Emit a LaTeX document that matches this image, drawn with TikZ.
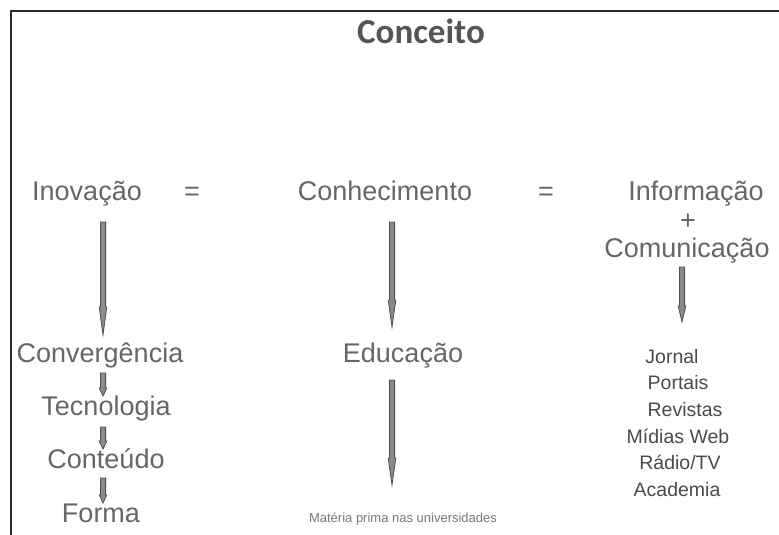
\documentclass[tikz,border=0pt]{standalone}
\usepackage{fontspec}
\setmainfont{Liberation Sans}
\newfontfamily\titlefont{Carlito}
\usetikzlibrary{calc}
\definecolor{txtgray}{HTML}{666666}
\definecolor{listgray}{HTML}{4A4A4A}
\definecolor{smallgray}{HTML}{777777}
\definecolor{titlegray}{HTML}{555555}
\definecolor{arrfill}{HTML}{8A8A8A}
\definecolor{arrdraw}{HTML}{505050}
\definecolor{framecol}{HTML}{2A2A2A}
\tikzset{
  big/.style={text=txtgray, font=\fontsize{27}{32}\selectfont, anchor=base, inner sep=0pt},
  listitem/.style={text=listgray, font=\fontsize{19.5}{22}\selectfont, anchor=base, inner sep=0pt},
  small/.style={text=smallgray, font=\fontsize{13}{15}\selectfont, anchor=base, inner sep=0pt},
  titlestyle/.style={text=titlegray, font=\titlefont\bfseries\fontsize{35}{40}\selectfont, anchor=base, inner sep=0pt},
  frame/.style={draw=framecol, line width=2pt},
  arrowbody/.style={fill=arrfill, draw=arrdraw, line width=0.8pt, line join=miter}
}
\newcommand{\blockarr}[3]{%
  \filldraw[arrowbody] ($(#1)+(-2.6,0)$) -- ($(#2)+(-2.6,-#3)$) -- ($(#2)+(-3.8,-#3)$) -- (#2)
    -- ($(#2)+(3.8,-#3)$) -- ($(#2)+(2.6,-#3)$) -- ($(#1)+(2.6,0)$) -- cycle;}
\begin{document}
\begin{tikzpicture}[x=1pt,y=-1pt]
\useasboundingbox (0,0) rectangle (779,535);
% frame
\coordinate (fr1) at (11,535);
\coordinate (fr2) at (11,11);
\coordinate (fr3) at (780,11);
\draw[frame] (fr1) -- (fr2) -- (fr3);
% title
\node[titlestyle] (title) at (421,44) {Conceito};
% top row
\node[big] (ino) at (87,200) {Inovação};
\node[big] (eq1) at (192,200) {=};
\node[big] (con) at (385,200) {Conhecimento};
\node[big] (eq2) at (546,200) {=};
\node[big] (inf) at (696,200) {Informação};
\node[big] (plus) at (688,229) {+};
\node[big] (com) at (687,257) {Comunicação};
% left column
\node[big] (conv) at (100,362) {Convergência};
\node[big] (tec) at (106,415) {Tecnologia};
\node[big] (cont) at (106,468) {Conteúdo};
\node[big] (forma) at (101,522) {Forma};
% middle column
\node[big] (edu) at (403,362) {Educação};
\node[small] (mat) at (403,522) {Matéria prima nas universidades};
% right column
\node[listitem] (l1) at (672,363) {Jornal};
\node[listitem] (l2) at (678,389) {Portais};
\node[listitem] (l3) at (685,416) {Revistas};
\node[listitem] (l4) at (678,443) {Mídias Web};
\node[listitem] (l5) at (680,469) {Rádio/TV};
\node[listitem] (l6) at (677,496) {Academia};
% arrow end points
\coordinate (a1s) at (103,222); \coordinate (a1e) at (103,335);
\coordinate (a2s) at (392,222); \coordinate (a2e) at (392,327);
\coordinate (a3s) at (682,267); \coordinate (a3e) at (682,322);
\coordinate (a4s) at (103,373); \coordinate (a4e) at (103,396);
\coordinate (a5s) at (103,427); \coordinate (a5e) at (103,449);
\coordinate (a6s) at (103,478); \coordinate (a6e) at (103,503);
\coordinate (a7s) at (392,380); \coordinate (a7e) at (392,485);
\blockarr{a1s}{a1e}{28}
\blockarr{a2s}{a2e}{27}
\blockarr{a3s}{a3e}{16}
\blockarr{a4s}{a4e}{8}
\blockarr{a5s}{a5e}{8}
\blockarr{a6s}{a6e}{8}
\blockarr{a7s}{a7e}{27}
\end{tikzpicture}
\end{document}
